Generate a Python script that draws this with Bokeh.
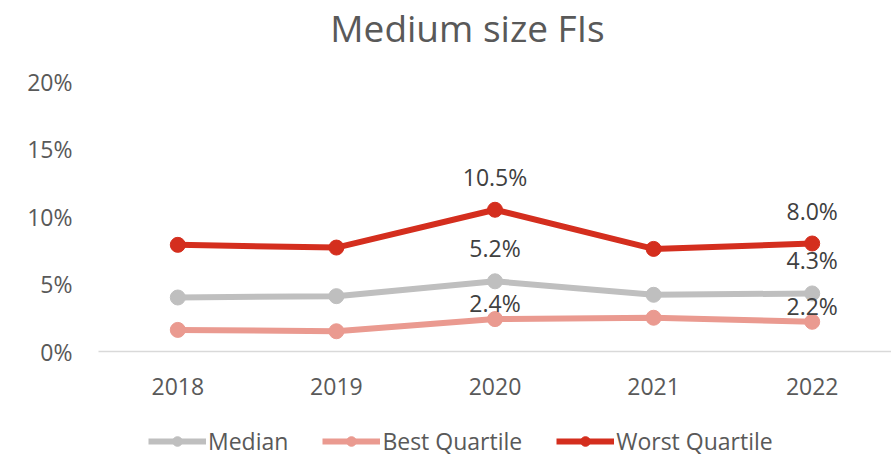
from bokeh.plotting import figure
from bokeh.layouts import column
from bokeh.models import ColumnDataSource, Legend, LegendItem, FixedTicker, Range1d, LabelSet, Label, CustomJSTickFormatter
from bokeh.core.properties import value
from bokeh.embed import file_html
from bokeh.resources import INLINE

years = ["2018", "2019", "2020", "2021", "2022"]
median = [4.0, 4.1, 5.2, 4.2, 4.3]
best_quartile = [1.6, 1.5, 2.4, 2.5, 2.2]
worst_quartile = [7.9, 7.7, 10.5, 7.6, 8.0]
y_ticks = [0, 5, 10, 15, 20]
labelled_years = ["2020", "2022"]
title_text = "Medium size FIs"

FONT = "Open Sans"
TXT = "#595959"

# title strip (its frame is aligned with the main chart's frame by the column layout)
tfig = figure(width=891, height=54, output_backend="svg", toolbar_location=None,
              min_border=0, x_range=Range1d(0, 1), y_range=Range1d(0, 1),
              x_axis_location=None, y_axis_location=None)
tfig.grid.grid_line_color = None
tfig.outline_line_color = None
tfig.add_layout(Label(x=369, y=27, x_units="screen", y_units="screen", text=title_text,
                      text_align="center", text_baseline="middle", text_font=FONT,
                      text_font_size="37px", text_color=TXT))

# main chart
p = figure(x_range=years, y_range=Range1d(0, 20), width=891, height=371,
           output_backend="svg", toolbar_location=None,
           min_border_left=98, min_border_right=0, min_border_top=27, min_border_bottom=74)
p.outline_line_color = None
p.grid.grid_line_color = None
p.background_fill_color = "white"

series = [("Median", median, "#BFBFBF"),
          ("Best Quartile", best_quartile, "#EA9A90"),
          ("Worst Quartile", worst_quartile, "#D42E1E")]
offsets = {"Median": 17, "Best Quartile": 0, "Worst Quartile": 17}
for name, vals, col in series:
    src = ColumnDataSource(dict(x=years, y=vals))
    p.line("x", "y", source=src, line_color=col, line_width=6)
    p.scatter("x", "y", source=src, size=15, fill_color=col, line_color=col)
    sel = [(y, v) for y, v in zip(years, vals) if y in labelled_years]
    lsrc = ColumnDataSource(dict(x=[s[0] for s in sel], y=[s[1] for s in sel],
                                 lab=[f"{s[1]:.1f}%" for s in sel]))
    p.add_layout(LabelSet(x="x", y="y", text="lab", source=lsrc, text_align="center",
                          text_baseline="bottom", y_offset=offsets[name],
                          text_font=value(FONT), text_font_size="23px", text_color="#404040"))

p.yaxis.ticker = FixedTicker(ticks=y_ticks)
p.yaxis.formatter = CustomJSTickFormatter(code="return tick + '%';")
for ax in (p.xaxis, p.yaxis):
    ax.major_tick_line_color = None
    ax.minor_tick_line_color = None
    ax.major_label_text_font = FONT
    ax.major_label_text_font_size = "23px"
    ax.major_label_text_color = TXT
p.yaxis.axis_line_color = None
p.yaxis.major_label_standoff = 20
p.xaxis.axis_line_color = "#D9D9D9"
p.xaxis.axis_line_width = 1.5
p.xaxis.major_label_standoff = 20

# legend strip below the chart (its series sit outside the strip's visible range)
leg = figure(width=891, height=32, output_backend="svg", toolbar_location=None,
             min_border=0, x_range=years, y_range=Range1d(100, 101),
             x_axis_location=None, y_axis_location=None)
leg.grid.grid_line_color = None
leg.outline_line_color = None
items = []
for name, vals, col in series:
    esrc = ColumnDataSource(dict(x=years, y=vals))
    l = leg.line("x", "y", source=esrc, line_color=col, line_width=6)
    c = leg.scatter("x", "y", source=esrc, size=12, fill_color=col, line_color=col)
    items.append(LegendItem(label=name, renderers=[l, c]))
legend = Legend(items=items, orientation="horizontal", location=(50, 0),
                label_text_font=FONT, label_text_font_size="23px", label_text_color=TXT,
                glyph_width=58, glyph_height=24, label_height=24, spacing=34, label_standoff=2,
                border_line_color=None, background_fill_alpha=0, margin=0, padding=2)
leg.add_layout(legend)

open("out.html", "w").write(file_html(column(tfig, p, leg, spacing=0), INLINE))
